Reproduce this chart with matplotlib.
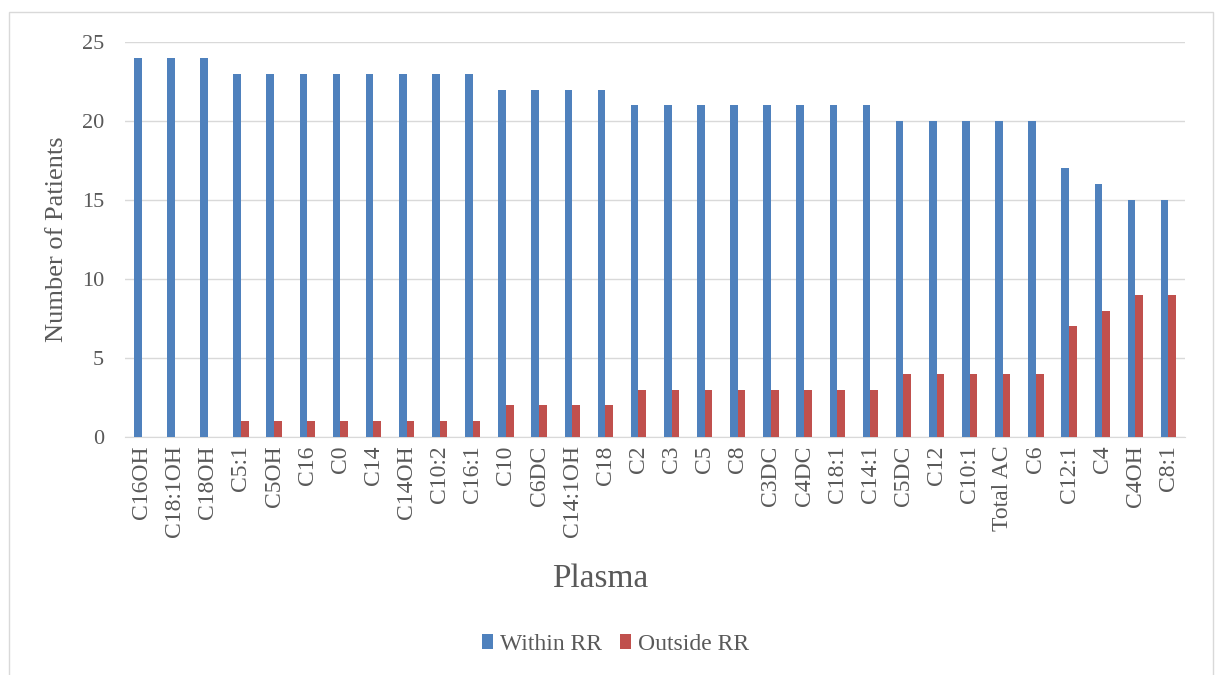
import numpy as np
import matplotlib.pyplot as plt
from matplotlib.patches import Rectangle

plt.rcParams['font.family'] = ['Liberation Serif', 'DejaVu Serif']

# data
analytes = ['C16OH', 'C18:1OH', 'C18OH', 'C5:1', 'C5OH', 'C16', 'C0', 'C14',
            'C14OH', 'C10:2', 'C16:1', 'C10', 'C6DC', 'C14:1OH', 'C18', 'C2',
            'C3', 'C5', 'C8', 'C3DC', 'C4DC', 'C18:1', 'C14:1', 'C5DC', 'C12',
            'C10:1', 'Total AC', 'C6', 'C12:1', 'C4', 'C4OH', 'C8:1']
within_rr = [24, 24, 24, 23, 23, 23, 23, 23, 23, 23, 23, 22, 22, 22, 22, 21,
             21, 21, 21, 21, 21, 21, 21, 20, 20, 20, 20, 20, 17, 16, 15, 15]
outside_rr = [0, 0, 0, 1, 1, 1, 1, 1, 1, 1, 1, 2, 2, 2, 2, 3,
              3, 3, 3, 3, 3, 3, 3, 4, 4, 4, 4, 4, 7, 8, 9, 9]

blue = '#4F81BD'
red = '#C0504D'
txt = '#595959'

fig = plt.figure(figsize=(12.19, 6.75), dpi=100)
ax = fig.add_axes([0.1025, 0.3526, 0.8696, 0.585])

x = np.arange(len(analytes))
w = 0.23
ax.bar(x - w/2, within_rr, w, color=blue, label='Within RR', zorder=3)
ax.bar(x + w/2, outside_rr, w, color=red, label='Outside RR', zorder=3)

ax.set_xlim(-0.5, len(analytes) - 0.5)
ax.set_ylim(0, 25)
ax.set_yticks([0, 5, 10, 15, 20, 25])
ax.yaxis.grid(True, color='#D9D9D9', linewidth=1, zorder=0)
ax.set_xticks(x)
ax.set_xticklabels(analytes, rotation=90, fontsize=17, color=txt)
ax.tick_params(axis='y', labelsize=16, labelcolor=txt, length=0, pad=15)
ax.tick_params(axis='x', length=0, pad=6)
for s in ['top', 'right', 'left']:
    ax.spines[s].set_visible(False)
ax.spines['bottom'].set_color('#D9D9D9')

ax.set_ylabel('Number of Patients', fontsize=19, color=txt, labelpad=10)
fig.text(0.492, 0.143, 'Plasma', fontsize=24, color=txt, ha='center', va='center')

fig.legend(loc='center', bbox_to_anchor=(0.505, 0.045), ncol=2, frameon=False,
           fontsize=17, labelcolor=txt, handlelength=0.45, handleheight=0.6,
           handletextpad=0.3, columnspacing=0.8)

# light chart-area border
fig.patches.append(Rectangle((9/1219, -0.05), 1204/1219, 1.05 - 12/675,
                             transform=fig.transFigure, fill=False,
                             edgecolor='#D9D9D9', linewidth=1))

fig.savefig('out.png', dpi=100)
